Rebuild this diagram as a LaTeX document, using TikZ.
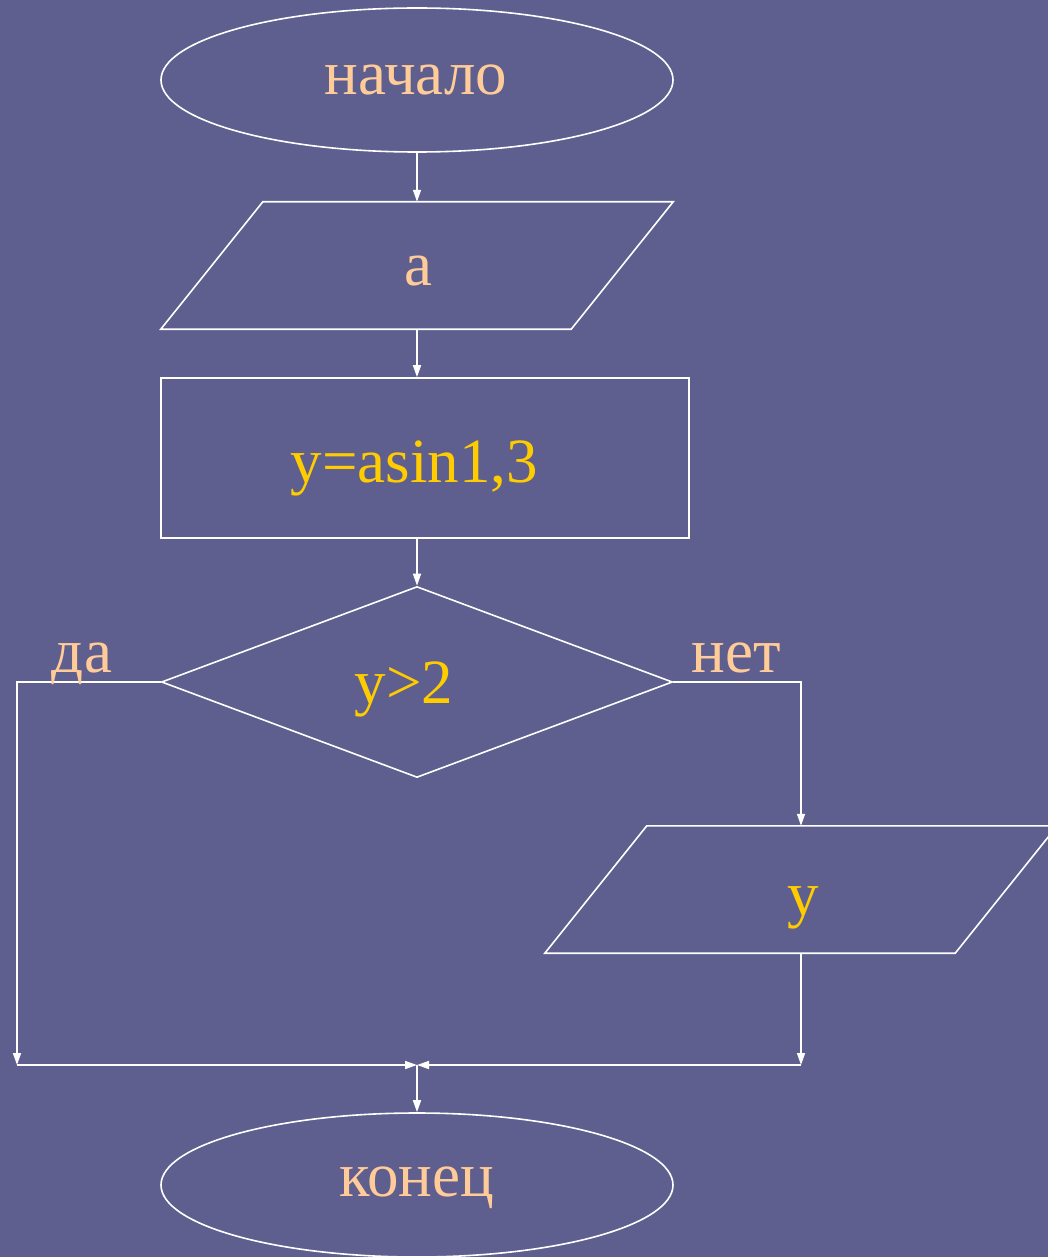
\documentclass[tikz,border=0pt]{standalone}
\usepackage{fontspec}
\setmainfont{Liberation Serif}
\usetikzlibrary{shapes.geometric,arrows.meta}
\definecolor{bg}{HTML}{5E5F8E}
\definecolor{peach}{HTML}{FFCC99}
\definecolor{gold}{HTML}{FFCC00}
\begin{document}
\begin{tikzpicture}[x=1pt,y=-1pt,
  line/.style={draw=white,line width=1.6pt},
  arr/.style={line,-{Triangle[width=8pt,length=12pt]}},
  term/.style={ellipse,line,minimum width=512pt,minimum height=144pt,inner sep=0pt},
  para/.style={minimum width=512pt,minimum height=127pt,inner sep=0pt},
  proc/.style={rectangle,line,minimum width=528pt,minimum height=160pt,inner sep=0pt},
  dec/.style={diamond,line,minimum width=511pt,minimum height=191pt,inner sep=0pt},
  txt/.style={anchor=base,inner sep=0pt,font=\fontsize{63}{70}\selectfont},
  pt/.style={txt,text=peach},
  yt/.style={txt,text=gold}]
\fill[bg] (0,0) rectangle (1048,1257);
\useasboundingbox (0,0) rectangle (1048,1257);
\begin{scope}
\clip (0,0) rectangle (1048,1257);
\node[term] (start) at (417,80) {};
\node[pt] (starttext) at (416,95) {начало};
\node[para] (in) at (417,265.5) {};
\draw[line] (in.south west) -- ([xshift=-102pt]in.south east) -- (in.north east) -- ([xshift=102pt]in.north west) -- cycle;
\node[pt] (intext) at (418,285) {а};
\node[proc] (calc) at (425,458) {};
\node[yt] (calctext) at (414.5,482) {y=asin1,3};
\node[dec] (cond) at (417,682) {};
\node[yt] (condtext) at (404,703) {y>2};
\node[para] (out) at (801,889.5) {};
\draw[line] (out.south west) -- ([xshift=-102pt]out.south east) -- (out.north east) -- ([xshift=102pt]out.north west) -- cycle;
\node[yt] (outtext) at (803,915) {y};
\node[term] (end) at (417,1185) {};
\node[pt] (endtext) at (417,1196) {конец};
\coordinate (lt) at (17,682);
\coordinate (lb) at (17,1065);
\coordinate (rt) at (801,682);
\coordinate (rb) at (801,1065);
\coordinate (join) at (417,1065);
\draw[arr] (start) -- (in);
\draw[arr] (in) -- (calc.north -| in.north);
\draw[arr] (calc.south -| cond.north) -- (cond);
\draw[arr] (cond.west) -- (lt) -- (lb);
\draw[arr] (lb) -- (join);
\draw[arr] (cond.east) -- (rt) -- (out.north);
\draw[arr] (out.south) -- (rb);
\draw[arr] (rb) -- (join);
\draw[arr] (join) -- (end);
\node[pt] (yes) at (82,672) {да};
\node[pt] (no) at (736,672) {нет};
\end{scope}
\end{tikzpicture}
\end{document}
